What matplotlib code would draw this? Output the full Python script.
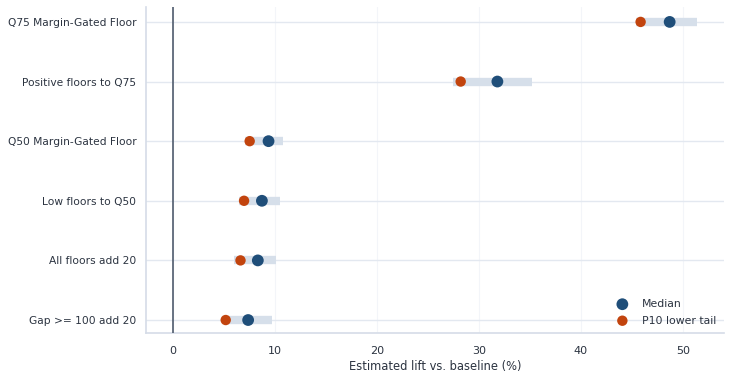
import matplotlib.pyplot as plt
import numpy as np

# data (top to bottom)
labels = ['Q75 Margin-Gated Floor', 'Positive floors to Q75', 'Q50 Margin-Gated Floor',
          'Low floors to Q50', 'All floors add 20', 'Gap >= 100 add 20']
median = [48.7, 31.8, 9.35, 8.7, 8.3, 7.35]
p10 = [45.85, 28.2, 7.5, 6.95, 6.6, 5.15]
band_lo = [45.4, 27.4, 7.0, 6.5, 6.0, 5.0]
band_hi = [51.4, 35.2, 10.75, 10.5, 10.05, 9.65]

txt = '#2b3340'
plt.rcParams['font.family'] = ['DejaVu Sans']

fig = plt.figure(figsize=(7.31, 3.79), dpi=100)
ax = fig.add_axes([0.2, 0.121, 0.79, 0.8605])

y = np.arange(len(labels))[::-1]

ax.hlines(y, band_lo, band_hi, color='#d6dfea', linewidth=6, zorder=2)
ax.scatter(median, y, s=72, color='#1f4e79', zorder=4, label='Median', edgecolors='none')
ax.scatter(p10, y, s=56, color='#c2440e', zorder=5, label='P10 lower tail', edgecolors='none')
ax.axvline(0, color='#4f5b6d', linewidth=1.2, zorder=3)

ax.set_xlim(-2.65, 54)
ax.set_ylim(-0.22, len(labels) - 1 + 0.25)
ax.set_yticks(y)
ax.set_yticklabels(labels)
ax.set_xticks([0, 10, 20, 30, 40, 50])
ax.set_xlabel('Estimated lift vs. baseline (%)', fontsize=8.3, color=txt, labelpad=3)

ax.tick_params(axis='y', length=0, labelsize=7.7, colors=txt, pad=7)
ax.tick_params(axis='x', length=0, labelsize=8, colors=txt, pad=9)
ax.grid(axis='y', color='#e3e8f0', linewidth=1, zorder=0)
ax.grid(axis='x', color='#f3f5f9', linewidth=0.8, zorder=0)
ax.set_axisbelow(True)
for s in ['top', 'right']:
    ax.spines[s].set_visible(False)
for s in ['left', 'bottom']:
    ax.spines[s].set_color('#d5dce7')
    ax.spines[s].set_linewidth(1.2)

leg = ax.legend(loc='lower right', frameon=False, fontsize=7.8, labelcolor=txt,
                handletextpad=0.8, labelspacing=0.6, borderaxespad=0.3,
                bbox_to_anchor=(1.0, 0.0))

fig.savefig('out.png', dpi=100)
